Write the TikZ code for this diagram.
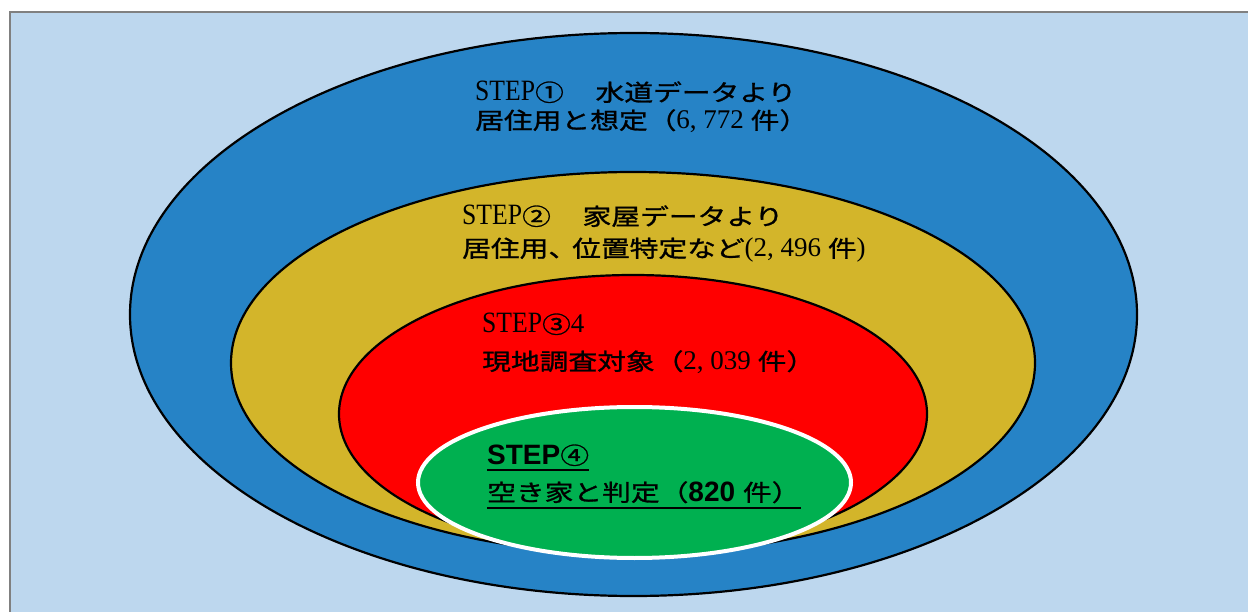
\documentclass[tikz,border=0pt]{standalone}
\usepackage{fontspec}
\setmainfont{Liberation Serif}
\newfontfamily\jp[FakeStretch=1.25,FakeBold=1.2]{Noto Sans CJK JP}
\newfontfamily\lat[FakeStretch=0.87]{Liberation Serif}
\newfontfamily\num{Liberation Serif}
\newfontfamily\sansb{Liberation Sans}
\usetikzlibrary{shapes.geometric}
\definecolor{bgblue}{HTML}{BDD7EE}
\definecolor{ringblue}{HTML}{2683C6}
\definecolor{ringyellow}{HTML}{D3B52A}
\definecolor{ringred}{HTML}{FF0000}
\definecolor{ringgreen}{HTML}{00B050}
\definecolor{framegray}{HTML}{808080}
\newcommand\J[1]{{\jp\fontsize{23pt}{27pt}\selectfont #1}}
\newcommand\LT[1]{{\lat\fontsize{29.5pt}{32pt}\selectfont #1}}
\newcommand\NM[1]{{\num\fontsize{27pt}{30pt}\selectfont #1}}
\newcommand\SB[1]{{\sansb\bfseries\fontsize{28pt}{30pt}\selectfont #1}}
\tikzset{
  ring/.style={ellipse, draw=black, line width=2.2pt, inner sep=0pt},
  label/.style={anchor=base west, inner sep=0pt, text=black},
  uline/.style={draw=black, line width=2pt}
}
\begin{document}
\begin{tikzpicture}[x=1pt,y=-1pt]
\useasboundingbox (0,0) rectangle (1248,612);
\clip (0,0) rectangle (1248,612);
\fill[white] (0,0) rectangle (1248,612);
\fill[bgblue] (10,12) rectangle (1262,625);
\draw[framegray, line width=2pt] (10,625) -- (10,12) -- (1262,12);

\node[ring, fill=ringblue, minimum width=1007pt, minimum height=563pt] (s1) at (633.5,314.5) {};
\node[ring, fill=ringyellow, minimum width=804pt, minimum height=382pt] (s2) at (633,363) {};
\node[ring, fill=ringred, minimum width=588pt, minimum height=278pt] (s3) at (633,414) {};
\node[ellipse, draw=white, line width=4pt, fill=ringgreen, inner sep=0pt, minimum width=433pt, minimum height=151pt] (s4) at (634.5,482.5) {};

\node[label] (t1a) at (475,101) {\LT{STEP}\J{①\hspace{3pt}　水道データより}};
\node[label] (t1b) at (475,129) {\J{居住用と想定（}\NM{6, 772 }\J{件）}};

\node[label] (t2a) at (462,225) {\LT{STEP}\J{②\hspace{3pt}　家屋データより}};
\node[label] (t2b) at (462,257) {\J{居住用、\kern-5pt 位置特定など}\NM{(2, 496 }\J{件}\NM{)}};

\node[label] (t3a) at (482,333) {\LT{STEP}\J{③}\NM{4}};
\node[label] (t3b) at (482,370) {\J{現地調査対象（}\NM{2, 039 }\J{件）}};

\node[label] (t4a) at (487,464) {\SB{STEP}\J{④}};
\node[label] (t4b) at (487,501) {\J{空き家と判定（}\SB{820 }\J{件）}};
\draw[uline] ([yshift=-6pt]t4a.base west) -- ([yshift=-6pt]t4a.base east);
\draw[uline] ([yshift=-7pt]t4b.base west) -- ++(314,0);
\end{tikzpicture}
\end{document}
